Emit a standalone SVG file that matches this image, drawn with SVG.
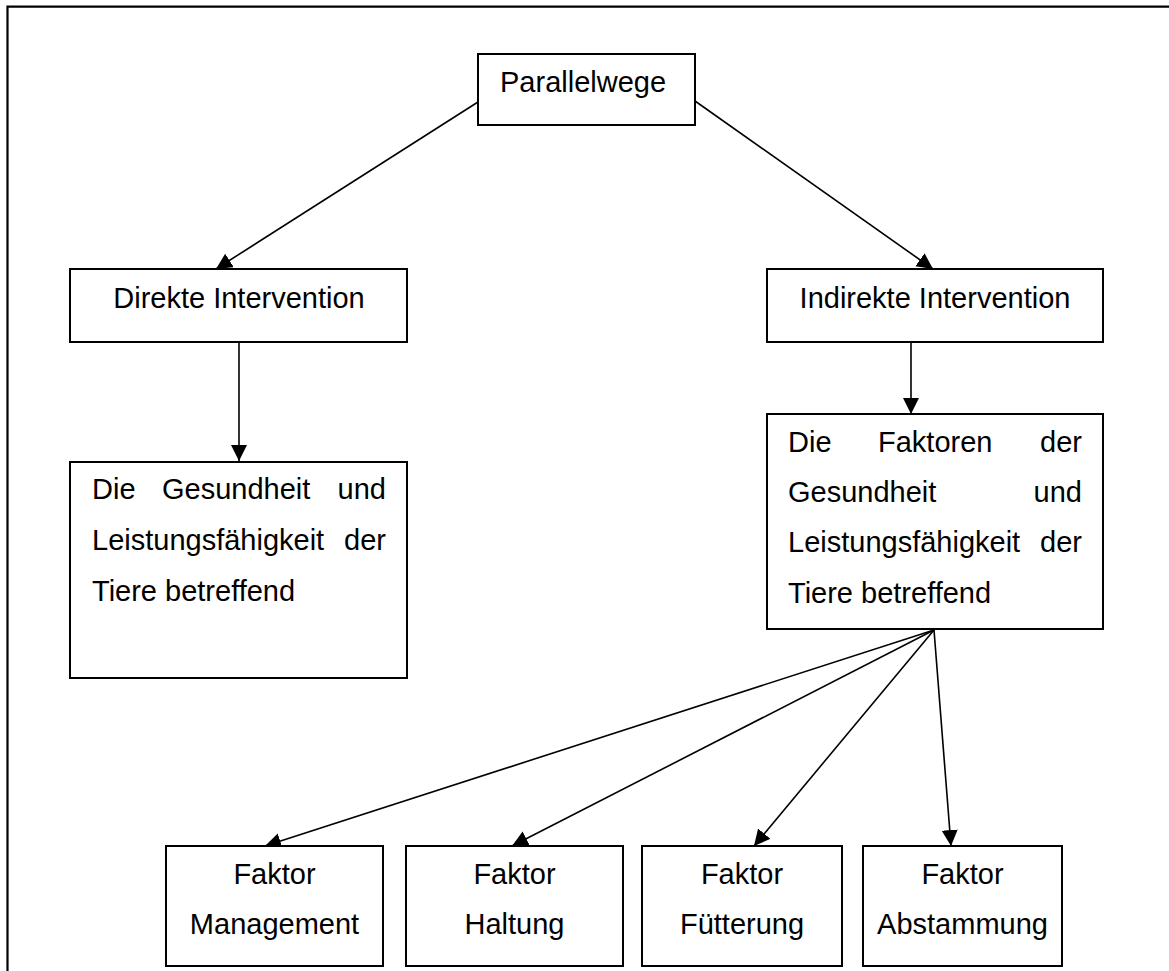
<svg xmlns="http://www.w3.org/2000/svg" width="1169" height="971" viewBox="0 0 1169 971">
<defs>
<marker id="arr" markerUnits="userSpaceOnUse" markerWidth="18" markerHeight="17" refX="16" refY="8" orient="auto">
<path d="M0,0 L16,8 L0,16 z" fill="#000"/>
</marker>
</defs>
<style>
.box{fill:#fff;stroke:#000;stroke-width:2}
.t{font-family:"Liberation Sans",Arial,sans-serif;font-size:29px;fill:#000}
.c{text-anchor:middle}
.e{text-anchor:end}
.ln{stroke:#000;stroke-width:1.6;fill:none;marker-end:url(#arr)}
</style>
<rect width="1169" height="971" fill="#fff"/>
<path d="M7.5,971 V6.7 H1169" fill="none" stroke="#000" stroke-width="2.2"/>
<g id="connectors">
<line class="ln" x1="478" y1="102" x2="216" y2="269"/>
<line class="ln" x1="695" y1="101" x2="933" y2="269"/>
<line class="ln" x1="239" y1="342" x2="239" y2="461"/>
<line class="ln" x1="911" y1="342" x2="911" y2="414"/>
<line class="ln" x1="934" y1="630" x2="265" y2="846"/>
<line class="ln" x1="934" y1="630" x2="512" y2="846"/>
<line class="ln" x1="934" y1="630" x2="754" y2="846"/>
<line class="ln" x1="934" y1="630" x2="951" y2="846"/>
</g>
<g id="parallelwege">
<rect class="box" x="478" y="54" width="217" height="71"/>
<text class="t" x="500" y="92">Parallelwege</text>
</g>
<g id="direkte">
<rect class="box" x="70" y="269" width="337" height="73"/>
<text class="t c" x="239" y="308">Direkte Intervention</text>
</g>
<g id="indirekte">
<rect class="box" x="767" y="269" width="336" height="73"/>
<text class="t c" x="935" y="308">Indirekte Intervention</text>
</g>
<g id="gesundheit">
<rect class="box" x="70" y="462" width="337" height="216"/>
<text class="t" x="92" y="499">Die</text>
<text class="t" x="162" y="499">Gesundheit</text>
<text class="t e" x="386" y="499">und</text>
<text class="t" x="92" y="550">Leistungsfähigkeit</text>
<text class="t e" x="386" y="550">der</text>
<text class="t" x="92" y="601">Tiere betreffend</text>
</g>
<g id="faktoren">
<rect class="box" x="767" y="414" width="336" height="215"/>
<text class="t" x="788" y="452">Die</text>
<text class="t" x="878" y="452">Faktoren</text>
<text class="t e" x="1082" y="452">der</text>
<text class="t" x="788" y="502">Gesundheit</text>
<text class="t e" x="1082" y="502">und</text>
<text class="t" x="788" y="552">Leistungsfähigkeit</text>
<text class="t e" x="1082" y="552">der</text>
<text class="t" x="788" y="603">Tiere betreffend</text>
</g>
<g id="management">
<rect class="box" x="166" y="846" width="217" height="120"/>
<text class="t c" x="274.5" y="884">Faktor</text>
<text class="t c" x="274.5" y="934">Management</text>
</g>
<g id="haltung">
<rect class="box" x="406" y="846" width="217" height="120"/>
<text class="t c" x="514.5" y="884">Faktor</text>
<text class="t c" x="514.5" y="934">Haltung</text>
</g>
<g id="fuetterung">
<rect class="box" x="642" y="846" width="200" height="120"/>
<text class="t c" x="742" y="884">Faktor</text>
<text class="t c" x="742" y="934">Fütterung</text>
</g>
<g id="abstammung">
<rect class="box" x="863" y="846" width="199" height="120"/>
<text class="t c" x="962.5" y="884">Faktor</text>
<text class="t c" x="962.5" y="934">Abstammung</text>
</g>
</svg>
